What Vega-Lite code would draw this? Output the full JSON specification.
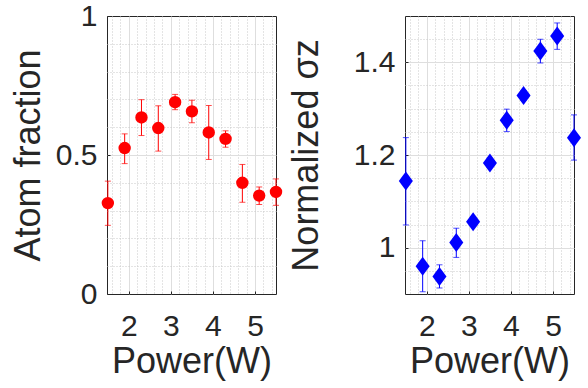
{
  "$schema": "https://vega.github.io/schema/vega-lite/v6.json",
  "padding": {"left": 9, "top": 0, "right": 5, "bottom": 5},
  "background": "white",
  "config": {
    "font": "Liberation Sans",
    "view": {"stroke": "#262626", "strokeWidth": 1},
    "axis": {
      "labelFont": "Liberation Sans", "titleFont": "Liberation Sans",
      "labelFontSize": 30, "titleFontSize": 36, "titleFontWeight": "normal",
      "labelColor": "#262626", "titleColor": "#262626",
      "domain": false, "ticks": true, "tickSize": -3, "tickColor": "#262626", "tickWidth": 1, "grid": true,
      "labelOverlap": false, "labelBound": false, "labelFlush": false,
      "format": "~g", "gridWidth": 1
    }
  },
  "datasets": {
    "left": [
      {"p": 1.5, "v": 0.327, "lo": 0.247, "hi": 0.406},
      {"p": 1.9, "v": 0.525, "lo": 0.469, "hi": 0.576},
      {"p": 2.3, "v": 0.635, "lo": 0.570, "hi": 0.699},
      {"p": 2.7, "v": 0.597, "lo": 0.514, "hi": 0.677},
      {"p": 3.1, "v": 0.690, "lo": 0.663, "hi": 0.718},
      {"p": 3.5, "v": 0.657, "lo": 0.616, "hi": 0.697},
      {"p": 3.9, "v": 0.581, "lo": 0.484, "hi": 0.678},
      {"p": 4.3, "v": 0.558, "lo": 0.528, "hi": 0.587},
      {"p": 4.7, "v": 0.400, "lo": 0.330, "hi": 0.466},
      {"p": 5.1, "v": 0.354, "lo": 0.322, "hi": 0.385},
      {"p": 5.5, "v": 0.367, "lo": 0.319, "hi": 0.414}
    ],
    "right": [
      {"p": 1.5, "v": 1.144, "lo": 1.049, "hi": 1.2375},
      {"p": 1.9, "v": 0.960, "lo": 0.905, "hi": 1.015},
      {"p": 2.3, "v": 0.938, "lo": 0.913, "hi": 0.963},
      {"p": 2.7, "v": 1.011, "lo": 0.979, "hi": 1.042},
      {"p": 3.1, "v": 1.056, "lo": 1.046, "hi": 1.066},
      {"p": 3.5, "v": 1.183, "lo": 1.173, "hi": 1.193},
      {"p": 3.9, "v": 1.275, "lo": 1.2505, "hi": 1.299},
      {"p": 4.3, "v": 1.3285, "lo": 1.318, "hi": 1.339},
      {"p": 4.7, "v": 1.4245, "lo": 1.3986, "hi": 1.4498},
      {"p": 5.1, "v": 1.457, "lo": 1.428, "hi": 1.485},
      {"p": 5.5, "v": 1.2375, "lo": 1.189, "hi": 1.2866}
    ]
  },
  "spacing": 129,
  "bounds": "flush",
  "hconcat": [
    {
      "width": 169, "height": 278,
      "data": {"name": "left"},
      "encoding": {
        "x": {"field": "p", "type": "quantitative",
          "scale": {"domain": [1.48, 5.5], "nice": false, "zero": false},
          "axis": {"title": "Power(W)",
            "values": [1.6,1.8,2,2.2,2.4,2.6,2.8,3,3.2,3.4,3.6,3.8,4,4.2,4.4,4.6,4.8,5,5.2,5.4],
            "labelExpr": "abs(datum.value - round(datum.value)) < 0.001 ? datum.label : ''",
            "labelPadding": 20.5, "titlePadding": 3,
            "tickOpacity": {"condition": {"test": "abs(datum.value - round(datum.value)) < 0.001", "value": 1}, "value": 0},
            "gridDash": {"condition": {"test": "abs(datum.value - round(datum.value)) < 0.001", "value": []}, "value": [1, 2]},
            "gridColor": {"condition": {"test": "abs(datum.value - round(datum.value)) < 0.001", "value": "#dedede"}, "value": "#c9c9c9"}
          }
        }
      },
      "layer": [
        {
          "mark": {"type": "errorbar", "color": "#ff0000", "thickness": 1, "ticks": {"size": 6, "color": "#ff0000", "thickness": 1}},
          "encoding": {
            "y": {"field": "lo", "type": "quantitative",
              "scale": {"domain": [0, 1], "nice": false, "zero": false},
              "axis": {"title": "Atom fraction",
                "values": [0,0.1,0.2,0.3,0.4,0.5,0.6,0.7,0.8,0.9,1],
                "labelExpr": "abs(datum.value*2 - round(datum.value*2)) < 0.001 ? datum.label : ''",
                "labelPadding": 13, "titlePadding": 8,
                "tickOpacity": {"condition": {"test": "abs(datum.value*2 - round(datum.value*2)) < 0.001", "value": 1}, "value": 0},
                "gridDash": {"condition": {"test": "abs(datum.value*2 - round(datum.value*2)) < 0.001", "value": []}, "value": [1, 2]},
                "gridColor": {"condition": {"test": "abs(datum.value*2 - round(datum.value*2)) < 0.001", "value": "#dedede"}, "value": "#c9c9c9"},
                "gridOpacity": {"condition": {"test": "datum.value <= 0.001 || datum.value >= 0.999", "value": 0}, "value": 1}
              }
            },
            "y2": {"field": "hi"}
          }
        },
        {
          "mark": {"type": "point", "shape": "circle", "filled": true, "size": 154, "color": "#ff0000", "opacity": 1},
          "encoding": {
            "y": {"field": "v", "type": "quantitative",
              "scale": {"domain": [0, 1], "nice": false, "zero": false},
              "axis": {"title": "Atom fraction",
                "values": [0,0.1,0.2,0.3,0.4,0.5,0.6,0.7,0.8,0.9,1],
                "labelExpr": "abs(datum.value*2 - round(datum.value*2)) < 0.001 ? datum.label : ''",
                "labelPadding": 13, "titlePadding": 8,
                "tickOpacity": {"condition": {"test": "abs(datum.value*2 - round(datum.value*2)) < 0.001", "value": 1}, "value": 0},
                "gridDash": {"condition": {"test": "abs(datum.value*2 - round(datum.value*2)) < 0.001", "value": []}, "value": [1, 2]},
                "gridColor": {"condition": {"test": "abs(datum.value*2 - round(datum.value*2)) < 0.001", "value": "#dedede"}, "value": "#c9c9c9"},
                "gridOpacity": {"condition": {"test": "datum.value <= 0.001 || datum.value >= 0.999", "value": 0}, "value": 1}
              }
            }
          }
        }
      ]
    },
    {
      "width": 169, "height": 278,
      "data": {"name": "right"},
      "encoding": {
        "x": {"field": "p", "type": "quantitative",
          "scale": {"domain": [1.48, 5.5], "nice": false, "zero": false},
          "axis": {"title": "Power(W)",
            "values": [1.6,1.8,2,2.2,2.4,2.6,2.8,3,3.2,3.4,3.6,3.8,4,4.2,4.4,4.6,4.8,5,5.2,5.4],
            "labelExpr": "abs(datum.value - round(datum.value)) < 0.001 ? datum.label : ''",
            "labelPadding": 20.5, "titlePadding": 3,
            "tickOpacity": {"condition": {"test": "abs(datum.value - round(datum.value)) < 0.001", "value": 1}, "value": 0},
            "gridDash": {"condition": {"test": "abs(datum.value - round(datum.value)) < 0.001", "value": []}, "value": [1, 2]},
            "gridColor": {"condition": {"test": "abs(datum.value - round(datum.value)) < 0.001", "value": "#dedede"}, "value": "#c9c9c9"}
          }
        }
      },
      "layer": [
        {
          "mark": {"type": "errorbar", "color": "#0000ff", "thickness": 1, "ticks": {"size": 6, "color": "#0000ff", "thickness": 1}},
          "encoding": {
            "y": {"field": "lo", "type": "quantitative",
              "scale": {"domain": [0.9, 1.5], "nice": false, "zero": false},
              "axis": {"title": "Normalized σz",
                "values": [0.95,1,1.05,1.1,1.15,1.2,1.25,1.3,1.35,1.4,1.45],
                "labelExpr": "abs(datum.value*5 - round(datum.value*5)) < 0.001 ? datum.label : ''",
                "labelPadding": 13, "titlePadding": 28,
                "tickOpacity": {"condition": {"test": "abs(datum.value*5 - round(datum.value*5)) < 0.001", "value": 1}, "value": 0},
                "gridDash": {"condition": {"test": "abs(datum.value*5 - round(datum.value*5)) < 0.001", "value": []}, "value": [1, 2]},
                "gridColor": {"condition": {"test": "abs(datum.value*5 - round(datum.value*5)) < 0.001", "value": "#dedede"}, "value": "#c9c9c9"}
              }
            },
            "y2": {"field": "hi"}
          }
        },
        {
          "mark": {"type": "point", "shape": "M0,-1L0.74,0L0,1L-0.74,0Z", "filled": true, "size": 361, "color": "#0000ff", "opacity": 1},
          "encoding": {
            "y": {"field": "v", "type": "quantitative",
              "scale": {"domain": [0.9, 1.5], "nice": false, "zero": false},
              "axis": {"title": "Normalized σz",
                "values": [0.95,1,1.05,1.1,1.15,1.2,1.25,1.3,1.35,1.4,1.45],
                "labelExpr": "abs(datum.value*5 - round(datum.value*5)) < 0.001 ? datum.label : ''",
                "labelPadding": 13, "titlePadding": 28,
                "tickOpacity": {"condition": {"test": "abs(datum.value*5 - round(datum.value*5)) < 0.001", "value": 1}, "value": 0},
                "gridDash": {"condition": {"test": "abs(datum.value*5 - round(datum.value*5)) < 0.001", "value": []}, "value": [1, 2]},
                "gridColor": {"condition": {"test": "abs(datum.value*5 - round(datum.value*5)) < 0.001", "value": "#dedede"}, "value": "#c9c9c9"}
              }
            }
          }
        }
      ]
    }
  ]
}
